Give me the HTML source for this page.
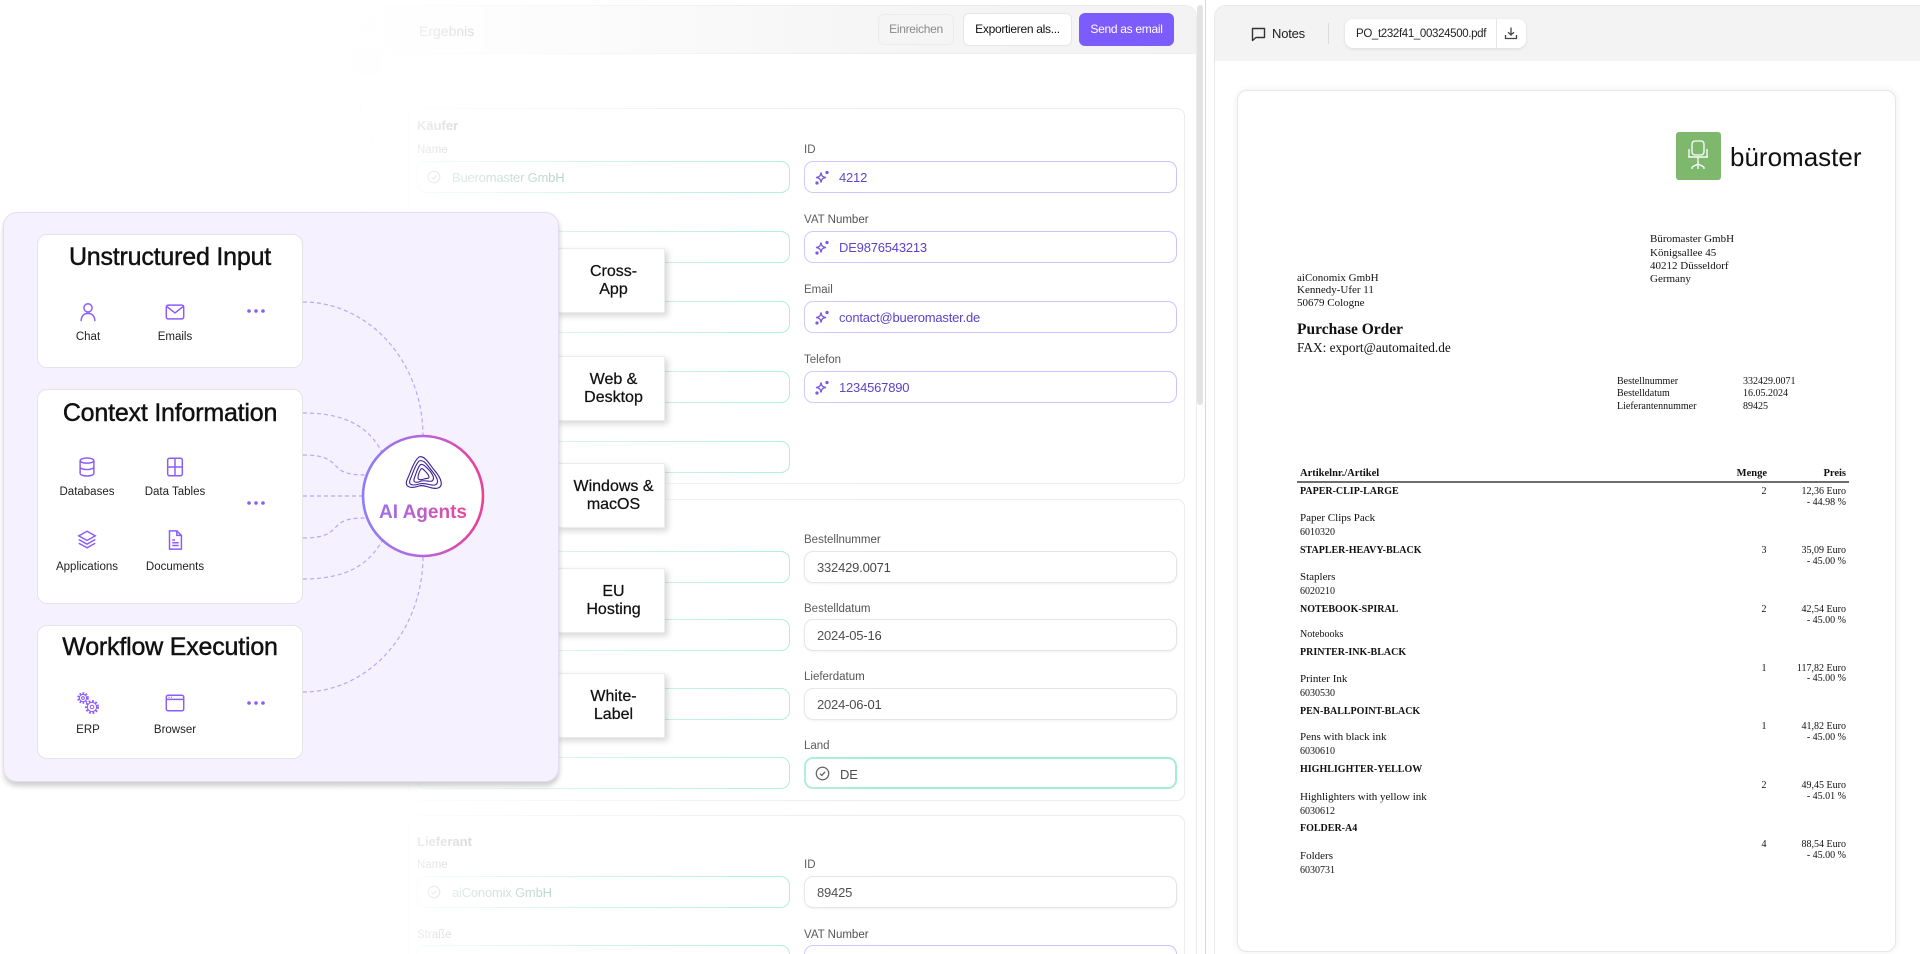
<!DOCTYPE html>
<html><head><meta charset="utf-8">
<style>
*{box-sizing:border-box;margin:0;padding:0}
html,body{width:1920px;height:954px;overflow:hidden;background:#fff}
body{font-family:"Liberation Sans",sans-serif;}
#root{position:relative;width:1920px;height:954px;overflow:hidden;background:#fff}
.a{position:absolute}
.t{position:absolute;white-space:nowrap}
.lb{position:absolute;white-space:nowrap;font-size:11.5px;color:#4a4a4a;line-height:14px}
.in{position:absolute;height:32px;border-radius:9px;background:#fff;width:373px}
.mint{border:1.5px solid #a6ecd3}
.lav{border:1.5px solid #cdc2fb}
.gry{border:1px solid #e4e4e4;box-shadow:0 1px 2px rgba(0,0,0,0.06)}
.iv{position:absolute;white-space:nowrap;font-size:13px;line-height:16px;top:8px;left:34px;letter-spacing:-0.2px}
.pv{color:#5b3fc7}
.gv{color:#444;left:12px}
.card{position:absolute;left:408px;width:777px;border:1px solid #ececec;border-radius:8px;background:#fff}
.pb{position:absolute;left:556px;width:109px;height:65px;background:#fff;box-shadow:3px 3px 6px rgba(0,0,0,0.16);border:1px solid #ececec;font-size:16px;line-height:18px;text-align:center;color:#111;display:flex;align-items:center;justify-content:center;padding-left:6px;-webkit-text-stroke:0.25px #111}
.wc{position:absolute;left:37px;width:266px;background:#fff;border:1px solid #e4e4e7;border-radius:10px}
.ttl{position:absolute;left:37px;width:266px;text-align:center;font-size:25px;line-height:30px;color:#111;white-space:nowrap;letter-spacing:-0.2px;-webkit-text-stroke:0.45px #111}
.il{position:absolute;width:100px;text-align:center;font-size:11.5px;line-height:14px;color:#222;white-space:nowrap}
.ic{position:absolute}
.s{position:absolute;white-space:nowrap;font-family:"Liberation Serif",serif;color:#111;line-height:14px}
.nm{font-weight:bold;font-size:10px}
.ds{font-size:11px}
.cd{font-size:10px}
.q{font-size:10px;width:20px;text-align:center}
.pr{font-size:10px;text-align:right;width:100px}
</style></head>
<body>
<div id="root">

<!-- ========== FORM PANEL (background) ========== -->
<div class="a" style="left:340px;top:5px;width:857px;height:949px;border:1px solid #ebebeb;border-bottom:none;border-radius:12px 12px 0 0;background:#fff;z-index:1"></div>
<div class="a" style="left:341px;top:6px;width:855px;height:48px;background:linear-gradient(to right,#fafafa,#f3f3f3);border-bottom:1px solid #eeeeee;border-radius:11px 11px 0 0;z-index:1"></div>
<div style="position:absolute;left:0;top:0;width:1200px;height:954px;overflow:hidden;z-index:2">
  <!-- sidebar faint icons -->
  <div class="a" style="left:360px;top:18px;width:14px;height:14px;border:1.5px solid #e4e4e4;border-radius:3px"></div>
  <div class="a" style="left:353px;top:48px;width:28px;height:28px;background:#f7eeee;border-radius:9px"></div>
  <div class="a" style="left:360px;top:100px;width:14px;height:14px;border:1.5px solid #eddede;border-radius:3px"></div>
  <div class="a" style="left:361px;top:132px;width:12px;height:15px;border:1.5px solid #eddede;border-radius:2px"></div>
  <div class="a" style="left:360px;top:166px;width:12px;height:12px;border:1.5px solid #ececec;border-radius:50%"></div>
  <div class="a" style="left:360px;top:198px;width:14px;height:14px;border:1.5px solid #ececec;border-radius:50%"></div>

  <div class="t" style="left:419px;top:23px;font-size:14px;line-height:16px;color:#666">Ergebnis</div>
  <div class="a" style="left:878px;top:14px;width:76px;height:31px;background:#f5f5f5;border:1px solid #ececec;border-radius:6px;font-size:12px;line-height:29px;text-align:center;color:#8a8a8a;letter-spacing:-0.3px">Einreichen</div>
  <div class="a" style="left:963px;top:13px;width:109px;height:33px;background:#fff;border:1px solid #e6e6e6;border-radius:6px;font-size:12px;line-height:31px;text-align:center;color:#111;letter-spacing:-0.3px">Exportieren als...</div>
  <div class="a" style="left:1079px;top:13px;width:95px;height:33px;background:#7c5cfc;border-radius:6px;font-size:12px;line-height:33px;text-align:center;color:#fff;letter-spacing:-0.3px">Send as email</div>

  <!-- Käufer card -->
  <div class="card" style="top:108px;height:376px"></div>
  <div class="t" style="left:417px;top:119px;font-size:13px;line-height:14px;font-weight:bold;color:#555">Käufer</div>
  <div class="lb" style="left:417px;top:143px">Name</div>
  <div class="in mint" style="left:417px;top:161px">
    <svg class="a" style="left:9px;top:8px" width="14" height="14" viewBox="0 0 14 14" fill="none" stroke="#777" stroke-width="1.2"><circle cx="7" cy="7" r="5.8"/><path d="M4.6,7.2 L6.4,8.8 L9.4,5.4"/></svg>
    <div class="iv" style="color:#5a9a84">Bueromaster GmbH</div>
  </div>
  <div class="in mint" style="left:417px;top:231px"></div>
  <div class="in mint" style="left:417px;top:301px"></div>
  <div class="in mint" style="left:417px;top:371px"></div>
  <div class="in mint" style="left:417px;top:441px"></div>

  <div class="lb" style="left:804px;top:143px">ID</div>
  <div class="in lav" style="left:804px;top:161px"><svg class="a" style="left:10px;top:8px" width="15" height="15" viewBox="0 0 15 15" fill="none" stroke="#6d4ad8" stroke-width="1.3"><path d="M6,2.5 C6.5,6 7.5,7 11,7.5 C7.5,8 6.5,9 6,12.5 C5.5,9 4.5,8 1,7.5 C4.5,7 5.5,6 6,2.5Z"/><circle cx="12" cy="2.5" r="1" fill="#6d4ad8"/><circle cx="2" cy="13" r="1" fill="#6d4ad8"/></svg><div class="iv pv">4212</div></div>
  <div class="lb" style="left:804px;top:213px">VAT Number</div>
  <div class="in lav" style="left:804px;top:231px"><svg class="a" style="left:10px;top:8px" width="15" height="15" viewBox="0 0 15 15" fill="none" stroke="#6d4ad8" stroke-width="1.3"><path d="M6,2.5 C6.5,6 7.5,7 11,7.5 C7.5,8 6.5,9 6,12.5 C5.5,9 4.5,8 1,7.5 C4.5,7 5.5,6 6,2.5Z"/><circle cx="12" cy="2.5" r="1" fill="#6d4ad8"/><circle cx="2" cy="13" r="1" fill="#6d4ad8"/></svg><div class="iv pv">DE9876543213</div></div>
  <div class="lb" style="left:804px;top:283px">Email</div>
  <div class="in lav" style="left:804px;top:301px"><svg class="a" style="left:10px;top:8px" width="15" height="15" viewBox="0 0 15 15" fill="none" stroke="#6d4ad8" stroke-width="1.3"><path d="M6,2.5 C6.5,6 7.5,7 11,7.5 C7.5,8 6.5,9 6,12.5 C5.5,9 4.5,8 1,7.5 C4.5,7 5.5,6 6,2.5Z"/><circle cx="12" cy="2.5" r="1" fill="#6d4ad8"/><circle cx="2" cy="13" r="1" fill="#6d4ad8"/></svg><div class="iv pv">contact@bueromaster.de</div></div>
  <div class="lb" style="left:804px;top:353px">Telefon</div>
  <div class="in lav" style="left:804px;top:371px"><svg class="a" style="left:10px;top:8px" width="15" height="15" viewBox="0 0 15 15" fill="none" stroke="#6d4ad8" stroke-width="1.3"><path d="M6,2.5 C6.5,6 7.5,7 11,7.5 C7.5,8 6.5,9 6,12.5 C5.5,9 4.5,8 1,7.5 C4.5,7 5.5,6 6,2.5Z"/><circle cx="12" cy="2.5" r="1" fill="#6d4ad8"/><circle cx="2" cy="13" r="1" fill="#6d4ad8"/></svg><div class="iv pv">1234567890</div></div>

  <!-- Bestell card -->
  <div class="card" style="top:499px;height:302px"></div>
  <div class="in mint" style="left:417px;top:551px"></div>
  <div class="in mint" style="left:417px;top:619px"></div>
  <div class="in mint" style="left:417px;top:688px"></div>
  <div class="in mint" style="left:417px;top:757px"></div>
  <div class="lb" style="left:804px;top:533px">Bestellnummer</div>
  <div class="in gry" style="left:804px;top:551px"><div class="iv gv">332429.0071</div></div>
  <div class="lb" style="left:804px;top:602px">Bestelldatum</div>
  <div class="in gry" style="left:804px;top:619px"><div class="iv gv">2024-05-16</div></div>
  <div class="lb" style="left:804px;top:670px">Lieferdatum</div>
  <div class="in gry" style="left:804px;top:688px"><div class="iv gv">2024-06-01</div></div>
  <div class="lb" style="left:804px;top:739px">Land</div>
  <div class="in mint" style="left:804px;top:757px;border-width:2px">
    <svg class="a" style="left:9px;top:7px" width="15" height="15" viewBox="0 0 14 14" fill="none" stroke="#555" stroke-width="1.2"><circle cx="7" cy="7" r="5.8"/><path d="M4.6,7.2 L6.4,8.8 L9.4,5.4"/></svg>
    <div class="iv" style="color:#444">DE</div>
  </div>

  <!-- Lieferant card -->
  <div class="card" style="top:815px;height:160px"></div>
  <div class="t" style="left:417px;top:835px;font-size:13px;line-height:14px;font-weight:bold;color:#555">Lieferant</div>
  <div class="lb" style="left:417px;top:858px">Name</div>
  <div class="in mint" style="left:417px;top:876px">
    <svg class="a" style="left:9px;top:8px" width="14" height="14" viewBox="0 0 14 14" fill="none" stroke="#777" stroke-width="1.2"><circle cx="7" cy="7" r="5.8"/><path d="M4.6,7.2 L6.4,8.8 L9.4,5.4"/></svg>
    <div class="iv" style="color:#5a9a84">aiConomix GmbH</div>
  </div>
  <div class="lb" style="left:804px;top:858px">ID</div>
  <div class="in gry" style="left:804px;top:876px"><div class="iv gv">89425</div></div>
  <div class="lb" style="left:417px;top:928px">Straße</div>
  <div class="lb" style="left:804px;top:928px">VAT Number</div>
  <div class="in mint" style="left:417px;top:945px"></div>
  <div class="in lav" style="left:804px;top:945px"></div>
</div>

<!-- fade overlay on form -->
<div class="a" style="left:300px;top:0;width:580px;height:954px;z-index:3;background:linear-gradient(to right,rgba(255,255,255,0.98) 0%,rgba(255,255,255,0.9) 20%,rgba(255,255,255,0.58) 45%,rgba(255,255,255,0.2) 78%,rgba(255,255,255,0) 100%)"></div>

<!-- scrollbar & divider -->
<div class="a" style="left:1197px;top:5px;width:6px;height:400px;background:#e3e3e3;border-radius:3px;z-index:2"></div>
<div class="a" style="left:1205px;top:0;width:1px;height:954px;background:#d9d2fd;z-index:2"></div>

<!-- ========== PLATFORM BOXES ========== -->
<div class="pb" style="top:248px;z-index:4">Cross-<br>App</div>
<div class="pb" style="top:356px;z-index:4">Web &amp;<br>Desktop</div>
<div class="pb" style="top:463px;z-index:4">Windows &amp;<br>macOS</div>
<div class="pb" style="top:568px;z-index:4">EU<br>Hosting</div>
<div class="pb" style="top:673px;z-index:4">White-<br>Label</div>

<!-- ========== LEFT PURPLE CARD ========== -->
<div class="a" style="left:3px;top:212px;width:556px;height:570px;background:#f6f1fe;border:1px solid #e4ddf1;border-radius:14px;box-shadow:0 5px 5px rgba(0,0,0,0.14),2px 2px 4px rgba(0,0,0,0.06);z-index:5"></div>

<svg class="a" style="left:0;top:0;z-index:6" width="600" height="800" viewBox="0 0 600 800">
  <defs>
    <linearGradient id="cg" x1="0" y1="0" x2="1" y2="0">
      <stop offset="0" stop-color="#8a80f6"/>
      <stop offset="0.5" stop-color="#b765dc"/>
      <stop offset="1" stop-color="#ea3f98"/>
    </linearGradient>
    <linearGradient id="tg" x1="378" y1="0" x2="468" y2="0" gradientUnits="userSpaceOnUse">
      <stop offset="0" stop-color="#9a70f0"/>
      <stop offset="1" stop-color="#e8489c"/>
    </linearGradient>
  </defs>
  <g fill="none" stroke="#b8a6f6" stroke-width="1.2" stroke-dasharray="4 3">
    <path d="M303,302 A120,134 0 0 1 423,436"/>
    <path d="M303,413 C350,413 370,430 382,452"/>
    <path d="M303,455 C325,455 330,460 336,466 C342,473 350,475 367,475"/>
    <path d="M303,496 L363,496"/>
    <path d="M303,538 C325,538 330,533 336,527 C342,520 350,518 367,518"/>
    <path d="M303,579 C350,579 370,562 382,541"/>
    <path d="M303,692 A120,136 0 0 0 423,556"/>
  </g>
  <circle cx="423" cy="496" r="60" fill="#fff" stroke="url(#cg)" stroke-width="2.6"/>
  <g fill="none" stroke="#3d1f96" stroke-width="1.1">
    <path d="M419,457 C414,461 411,471 407,480 C404,487 411,489 419,486 C426,484 431,490 438,488 C444,486 441,478 435,471 C429,464 425,455 419,457 Z"/>
    <path d="M419,461 C415,465 413,473 410,480 C408,485 413,486 419,484 C426,482 430,486 435,485 C440,483 437,477 432,471 C427,465 424,459 419,461 Z"/>
    <path d="M420,465 C417,469 416,474 414,479 C413,483 417,483 421,481 C426,480 429,482 432,481 C435,479 433,475 430,471 C426,467 423,463 420,465 Z"/>
    <path d="M421,469 C419,472 418,475 418,478 C418,480 421,480 424,479 C427,478 429,479 429,477 C429,475 427,473 425,471 C423,469 422,468 421,469 Z"/>
  </g>
  <text x="423" y="518" text-anchor="middle" font-family="Liberation Sans, sans-serif" font-size="19" font-weight="bold" fill="url(#tg)">AI Agents</text>
</svg>

<!-- inner white cards -->
<div class="wc" style="top:234px;height:134px;z-index:7"></div>
<div class="wc" style="top:389px;height:215px;z-index:7"></div>
<div class="wc" style="top:625px;height:134px;z-index:7"></div>

<div style="position:absolute;left:0;top:0;z-index:8">
  <div class="ttl" style="top:242px">Unstructured Input</div>
  <div class="ttl" style="top:398px">Context Information</div>
  <div class="ttl" style="top:632px">Workflow Execution</div>

  <!-- card 1 icons -->
  <svg class="ic" style="left:77px;top:301px" width="22" height="22" viewBox="0 0 24 24" fill="none" stroke="#8b5cf6" stroke-width="1.6"><circle cx="12" cy="7.5" r="4.5"/><path d="M4.5,22 C4.5,16 8,13.5 12,13.5 C16,13.5 19.5,16 19.5,22"/></svg>
  <svg class="ic" style="left:164px;top:301px" width="22" height="22" viewBox="0 0 24 24" fill="none" stroke="#8b5cf6" stroke-width="1.6"><rect x="2.5" y="4.5" width="19" height="15" rx="2"/><path d="M3,6 L12,13 L21,6"/></svg>
  <svg class="ic" style="left:245px;top:306px" width="22" height="10" viewBox="0 0 22 10" fill="#8b5cf6"><circle cx="4" cy="5" r="1.8"/><circle cx="11" cy="5" r="1.8"/><circle cx="18" cy="5" r="1.8"/></svg>
  <div class="il" style="left:38px;top:330px">Chat</div>
  <div class="il" style="left:125px;top:330px">Emails</div>

  <!-- card 2 icons -->
  <svg class="ic" style="left:76px;top:456px" width="22" height="22" viewBox="0 0 24 24" fill="none" stroke="#8b5cf6" stroke-width="1.6"><ellipse cx="12" cy="5" rx="7.5" ry="2.8"/><path d="M4.5,5 V19 C4.5,20.6 7.9,21.8 12,21.8 C16.1,21.8 19.5,20.6 19.5,19 V5"/><path d="M4.5,12 C4.5,13.6 7.9,14.8 12,14.8 C16.1,14.8 19.5,13.6 19.5,12"/></svg>
  <svg class="ic" style="left:164px;top:456px" width="22" height="22" viewBox="0 0 24 24" fill="none" stroke="#8b5cf6" stroke-width="1.6"><rect x="4" y="2.5" width="16" height="19" rx="2"/><path d="M12,2.5 V21.5 M4,12 H20"/></svg>
  <svg class="ic" style="left:245px;top:498px" width="22" height="10" viewBox="0 0 22 10" fill="#8b5cf6"><circle cx="4" cy="5" r="1.8"/><circle cx="11" cy="5" r="1.8"/><circle cx="18" cy="5" r="1.8"/></svg>
  <div class="il" style="left:37px;top:485px">Databases</div>
  <div class="il" style="left:125px;top:485px">Data Tables</div>
  <svg class="ic" style="left:76px;top:529px" width="22" height="22" viewBox="0 0 24 24" fill="none" stroke="#8b5cf6" stroke-width="1.6"><path d="M12,2.5 L21,7.5 L12,12.5 L3,7.5 Z"/><path d="M3,11.5 L12,16.5 L21,11.5"/><path d="M3,15.5 L12,20.5 L21,15.5"/></svg>
  <svg class="ic" style="left:164px;top:529px" width="22" height="22" viewBox="0 0 24 24" fill="none" stroke="#8b5cf6" stroke-width="1.6"><path d="M6,2 H14 L19,7 V22 H6 Z"/><path d="M14,2 V7 H19"/><path d="M9,12 H12 M9,15 H16 M9,18 H16"/></svg>
  <div class="il" style="left:37px;top:560px">Applications</div>
  <div class="il" style="left:125px;top:560px">Documents</div>

  <!-- card 3 icons -->
  <svg class="ic" style="left:75px;top:690px" width="26" height="26" viewBox="0 0 26 26" fill="none" stroke="#8b5cf6">
    <circle cx="8" cy="8" r="4.6" stroke-width="2.4" stroke-dasharray="1.6 1.4"/><circle cx="8" cy="8" r="3.6" stroke-width="1"/><circle cx="8" cy="8" r="1.4" stroke-width="1"/>
    <circle cx="17" cy="17" r="5.8" stroke-width="2.4" stroke-dasharray="1.8 1.6"/><circle cx="17" cy="17" r="4.6" stroke-width="1"/><circle cx="17" cy="17" r="1.8" stroke-width="1"/>
  </svg>
  <svg class="ic" style="left:164px;top:692px" width="22" height="22" viewBox="0 0 24 24" fill="none" stroke="#8b5cf6" stroke-width="1.6"><rect x="2.5" y="3.5" width="19" height="17" rx="2"/><path d="M2.5,8 H21.5"/><path d="M5,5.8 H6 M7.5,5.8 H8.5" stroke-width="1.4"/></svg>
  <svg class="ic" style="left:245px;top:698px" width="22" height="10" viewBox="0 0 22 10" fill="#8b5cf6"><circle cx="4" cy="5" r="1.8"/><circle cx="11" cy="5" r="1.8"/><circle cx="18" cy="5" r="1.8"/></svg>
  <div class="il" style="left:38px;top:723px">ERP</div>
  <div class="il" style="left:125px;top:723px">Browser</div>
</div>

<!-- ========== PDF PANEL ========== -->
<div class="a" style="left:1214px;top:5px;width:706px;height:949px;border:1px solid #e8e8e8;border-right:none;border-bottom:none;border-radius:12px 0 0 0;background:#fff;overflow:hidden;z-index:2">
  <div class="a" style="left:0;top:0;width:706px;height:55px;background:#f3f3f3"></div>
</div>
<div style="position:absolute;left:0;top:0;width:1920px;height:954px;overflow:hidden;z-index:3">
  <svg class="a" style="left:1251px;top:27px" width="15" height="15" viewBox="0 0 15 15" fill="none" stroke="#333" stroke-width="1.4"><path d="M1.5,1.5 H13.5 V10.5 H5 L1.5,13.5 Z" stroke-linejoin="round"/></svg>
  <div class="t" style="left:1272px;top:26px;font-size:13px;line-height:16px;color:#222;letter-spacing:-0.2px">Notes</div>
  <div class="a" style="left:1328px;top:23px;width:1px;height:21px;background:#dcdcdc"></div>
  <div class="a" style="left:1345px;top:19px;width:181px;height:29px;background:#fff;border-radius:8px;box-shadow:0 1px 3px rgba(0,0,0,0.1)"></div>
  <div class="t" style="left:1356px;top:26px;font-size:11.5px;line-height:16px;color:#222;letter-spacing:-0.35px">PO_t232f41_00324500.pdf</div>
  <div class="a" style="left:1496px;top:19px;width:1px;height:29px;background:#e6e6e6"></div>
  <svg class="a" style="left:1504px;top:26px" width="14" height="14" viewBox="0 0 14 14" fill="none" stroke="#444" stroke-width="1.3"><path d="M7,1.5 V9 M4,6.2 L7,9 L10,6.2"/><path d="M1.5,9 V12.5 H12.5 V9"/></svg>

  <!-- page -->
  <div class="a" style="left:1237px;top:90px;width:659px;height:862px;background:#fff;border:1px solid #e6e6e6;border-radius:10px;box-shadow:0 0 8px rgba(0,0,0,0.07)"></div>

  <div class="a" style="left:1676px;top:132px;width:45px;height:48px;background:#7db86c;border-radius:3px"></div>
  <svg class="a" style="left:1684px;top:138px" width="28" height="36" viewBox="0 0 28 36" fill="none" stroke="#fff" stroke-width="1.3"><rect x="8" y="3" width="12" height="14" rx="3"/><path d="M5,11 V19 H23 V11"/><path d="M4,19 H24"/><path d="M14,19 V26 M8,29 L14,26 L20,29 M8,29 V31 M20,29 V31 M14,26 V31"/></svg>
  <div class="t" style="left:1730px;top:141px;font-size:26px;line-height:32px;color:#111">büromaster</div>

  <div class="s ds" style="left:1650px;top:232px">Büromaster GmbH</div>
  <div class="s ds" style="left:1650px;top:246px">Königsallee 45</div>
  <div class="s ds" style="left:1650px;top:259px">40212 Düsseldorf</div>
  <div class="s ds" style="left:1650px;top:272px">Germany</div>

  <div class="s ds" style="left:1297px;top:271px">aiConomix GmbH</div>
  <div class="s ds" style="left:1297px;top:283px">Kennedy-Ufer 11</div>
  <div class="s ds" style="left:1297px;top:296px">50679 Cologne</div>

  <div class="s" style="left:1297px;top:321px;font-size:15.5px;line-height:18px;font-weight:bold">Purchase Order</div>
  <div class="s" style="left:1297px;top:340px;font-size:13.3px;line-height:16px">FAX: export@automaited.de</div>

  <div class="s cd" style="left:1617px;top:375px">Bestellnummer</div>
  <div class="s cd" style="left:1743px;top:375px">332429.0071</div>
  <div class="s cd" style="left:1617px;top:387px">Bestelldatum</div>
  <div class="s cd" style="left:1743px;top:387px">16.05.2024</div>
  <div class="s cd" style="left:1617px;top:400px">Lieferantennummer</div>
  <div class="s cd" style="left:1743px;top:400px">89425</div>

  <!-- table -->
  <div class="s nm" style="left:1300px;top:467px;font-size:10.5px">Artikelnr./Artikel</div>
  <div class="s nm" style="left:1727px;top:467px;width:40px;text-align:right;font-size:10.5px">Menge</div>
  <div class="s nm" style="left:1796px;top:467px;width:50px;text-align:right;font-size:10.5px">Preis</div>
  <div class="a" style="left:1297px;top:481px;width:552px;height:2px;background:#6e6e6e"></div>

  <div class="s nm" style="left:1300px;top:485px">PAPER-CLIP-LARGE</div>
  <div class="s q" style="left:1754px;top:485px">2</div>
  <div class="s pr" style="left:1746px;top:485px">12,36 Euro</div>
  <div class="s pr" style="left:1746px;top:496px">- 44.98 %</div>
  <div class="s ds" style="left:1300px;top:511px">Paper Clips Pack</div>
  <div class="s cd" style="left:1300px;top:526px">6010320</div>

  <div class="s nm" style="left:1300px;top:544px">STAPLER-HEAVY-BLACK</div>
  <div class="s q" style="left:1754px;top:544px">3</div>
  <div class="s pr" style="left:1746px;top:544px">35,09 Euro</div>
  <div class="s pr" style="left:1746px;top:555px">- 45.00 %</div>
  <div class="s ds" style="left:1300px;top:570px">Staplers</div>
  <div class="s cd" style="left:1300px;top:585px">6020210</div>

  <div class="s nm" style="left:1300px;top:603px">NOTEBOOK-SPIRAL</div>
  <div class="s q" style="left:1754px;top:603px">2</div>
  <div class="s pr" style="left:1746px;top:603px">42,54 Euro</div>
  <div class="s pr" style="left:1746px;top:614px">- 45.00 %</div>
  <div class="s cd" style="left:1300px;top:628px">Notebooks</div>

  <div class="s nm" style="left:1300px;top:646px">PRINTER-INK-BLACK</div>
  <div class="s q" style="left:1754px;top:662px">1</div>
  <div class="s pr" style="left:1746px;top:662px">117,82 Euro</div>
  <div class="s pr" style="left:1746px;top:672px">- 45.00 %</div>
  <div class="s ds" style="left:1300px;top:672px">Printer Ink</div>
  <div class="s cd" style="left:1300px;top:687px">6030530</div>

  <div class="s nm" style="left:1300px;top:705px">PEN-BALLPOINT-BLACK</div>
  <div class="s q" style="left:1754px;top:720px">1</div>
  <div class="s pr" style="left:1746px;top:720px">41,82 Euro</div>
  <div class="s pr" style="left:1746px;top:731px">- 45.00 %</div>
  <div class="s ds" style="left:1300px;top:730px">Pens with black ink</div>
  <div class="s cd" style="left:1300px;top:745px">6030610</div>

  <div class="s nm" style="left:1300px;top:763px">HIGHLIGHTER-YELLOW</div>
  <div class="s q" style="left:1754px;top:779px">2</div>
  <div class="s pr" style="left:1746px;top:779px">49,45 Euro</div>
  <div class="s pr" style="left:1746px;top:790px">- 45.01 %</div>
  <div class="s ds" style="left:1300px;top:790px">Highlighters with yellow ink</div>
  <div class="s cd" style="left:1300px;top:805px">6030612</div>

  <div class="s nm" style="left:1300px;top:822px">FOLDER-A4</div>
  <div class="s q" style="left:1754px;top:838px">4</div>
  <div class="s pr" style="left:1746px;top:838px">88,54 Euro</div>
  <div class="s pr" style="left:1746px;top:849px">- 45.00 %</div>
  <div class="s ds" style="left:1300px;top:849px">Folders</div>
  <div class="s cd" style="left:1300px;top:864px">6030731</div>
</div>

</div>
</body></html>
